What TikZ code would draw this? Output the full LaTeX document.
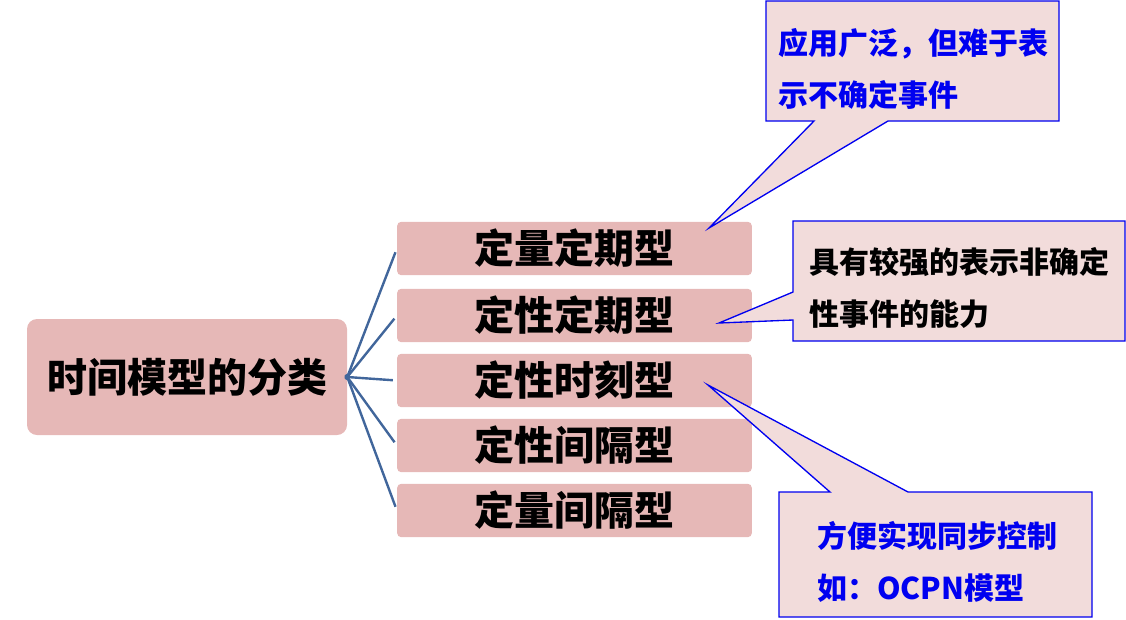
\documentclass[tikz,border=0pt]{standalone}
\usepackage{fontspec}
\setmainfont{Noto Sans CJK SC}
\usetikzlibrary{calc}
\definecolor{boxpink}{HTML}{E6B8B7}
\definecolor{notepink}{HTML}{F2DCDB}
\definecolor{linkblue}{HTML}{41669B}
\definecolor{noteblue}{HTML}{0000F0}
\tikzset{
  root/.style={fill=boxpink, rounded corners=7.5pt, minimum width=240pt, minimum height=87pt,
    font=\fontsize{30}{36}\selectfont\bfseries},
  kind/.style={fill=boxpink, rounded corners=3pt, minimum width=266pt, minimum height=40pt,
    font=\fontsize{30}{36}\selectfont\bfseries},
  note/.style={align=left, inner sep=0pt, font=\fontsize{22.5}{39}\selectfont\bfseries},
  balloon/.style={fill=notepink, draw=noteblue, line width=1pt, line join=miter},
  link/.style={linkblue, line width=1.8pt}
}
\begin{document}
\begin{tikzpicture}[x=0.75pt, y=-0.75pt]
	\useasboundingbox (0,0) rectangle (1126,619);
	
	% Root
	\node[root] (root) at (187,377) {时间模型的分类};
	
	% Kinds
	\node[kind] (c1) at (574.5,248.5) {定量定期型};
	\node[kind] (c2) at (574.5,315.5) {定性定期型};
	\node[kind] (c3) at (574.5,380.5) {定性时刻型};
	\node[kind] (c4) at (574.5,445.5) {定性间隔型};
	\node[kind] (c5) at (574.5,510.5) {定量间隔型};
	
	% Links
	\foreach \k in {1,...,5} {
		\draw[link, shorten <=-2pt, shorten >=3pt] (root.east) -- (c\k.west);
	}
	
	% Pointer tips
	\coordinate (t1) at (709,228);
	\coordinate (t2) at (719,323);
	\coordinate (t3) at (708,385);
	
	% Note boxes
	\path (766,1) coordinate (b1a) (1059,121) coordinate (b1b);
	\path (793,221) coordinate (b2a) (1125,341) coordinate (b2b);
	\path (779,492) coordinate (b3a) (1092,617) coordinate (b3b);
	
	\draw[balloon] (b1a) -- (b1a -| b1b) -- (b1b) -- ($(b1a |- b1b)+(122,0)$) -- (t1)
		-- ($(b1a |- b1b)+(48,0)$) -- (b1a |- b1b) -- cycle;
	\draw[balloon] (b2a) -- (b2a -| b2b) -- (b2b) -- (b2a |- b2b) -- ($(b2a)+(0,99)$) -- (t2)
		-- ($(b2a)+(0,71)$) -- cycle;
	\draw[balloon] (b3a) -- ($(b3a)+(51,0)$) -- (t3) -- ($(b3a)+(129,0)$) -- (b3a -| b3b)
		-- (b3b) -- (b3a |- b3b) -- cycle;
	
	% Note texts
	\node[note, text=noteblue] (n1) at (913,69) {应用广泛，但难于表\\示不确定事件};
	\node[note] (n2) at (959,288) {具有较强的表示非确定\\性事件的能力};
	\node[note, text=noteblue] (n3) at (937,562) {方便实现同步控制\\如：OCPN模型};
\end{tikzpicture}
\end{document}
